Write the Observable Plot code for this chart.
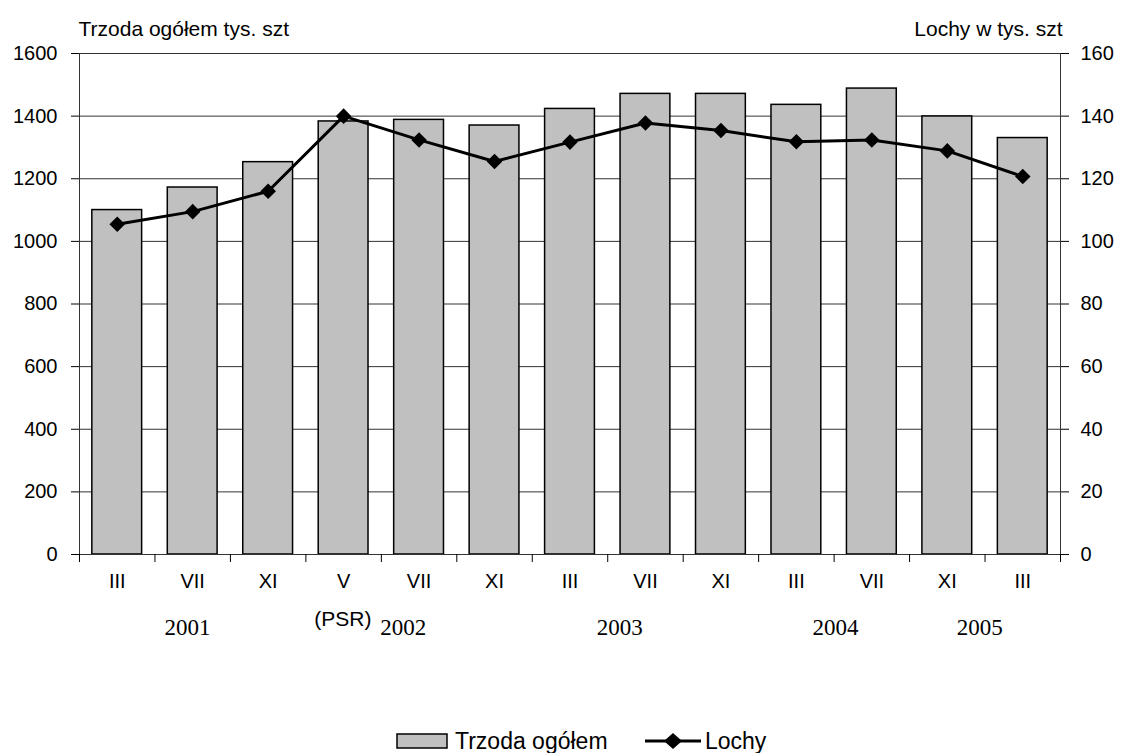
<!DOCTYPE html>
<html>
<head>
<meta charset="utf-8">
<script src="https://cdn.jsdelivr.net/npm/d3@7"></script>
<script src="https://cdn.jsdelivr.net/npm/@observablehq/plot@0.6"></script>
<style>
  body { margin: 0; background: #fff; font-family: "Liberation Sans", Arial, sans-serif; overflow: hidden; }
  #legend { height: 73px; position: relative; font-size: 23px; color: #000; }
  #legend .item { position: absolute; top: 49px; height: 24px; display: flex; align-items: center; }
</style>
</head>
<body>
<div id="chart"></div>
<div id="legend">
  <div class="item" style="left:396px;">
    <svg width="54" height="20"><rect x="1" y="3" width="50" height="14" fill="#c0c0c0" stroke="#000" stroke-width="1.5"/></svg>
    <span style="margin-left:5px">Trzoda ogółem</span>
  </div>
  <div class="item" style="left:644px;">
    <svg width="58" height="22"><line x1="1" y1="11" x2="57" y2="11" stroke="#000" stroke-width="3"/><path d="M29,3 L38,11 L29,19 L20,11 Z" fill="#000"/></svg>
    <span style="margin-left:3px">Lochy</span>
  </div>
</div>
<script>
const months = ["III","VII","XI","V","VII","XI","III","VII","XI","III","VII","XI","III"];
const trzoda = [1100,1172,1253,1383,1388,1370,1423,1471,1471,1436,1488,1399,1330];
const lochy = [105.5,109.5,116,140,132.4,125.5,131.7,137.8,135.4,131.8,132.4,128.9,120.7];
const years = ["2001","2002","2003","2004","2005"];
const yearPos = [1.43, 4.29, 7.16, 10.02, 11.93];
const psrLabel = "(PSR)";
const psrPos = 3.49;
const leftTicks = [0,200,400,600,800,1000,1200,1400,1600];
const rightTicks = [0,20,40,60,80,100,120,140,160];

const data = months.map((m, i) => ({i, m, t: trzoda[i], l: lochy[i]}));
const yearData = years.map((y, k) => ({y, p: yearPos[k]}));

const chart = Plot.plot({
  width: 1125,
  height: 680,
  marginLeft: 79,
  marginRight: 65,
  marginTop: 53,
  marginBottom: 126,
  style: {fontFamily: "'Liberation Sans', Arial, sans-serif", fontSize: "20px", background: "#fff", color: "#000"},
  x: {type: "linear", domain: [0, 13], axis: null},
  y: {domain: [0, 1600], axis: null},
  marks: [
    Plot.ruleY(leftTicks.filter(d => d > 0), {stroke: "#333", strokeWidth: 1}),
    Plot.rect(data, {x1: d => d.i + 0.17, x2: d => d.i + 0.83, y1: 0, y2: "t", fill: "#c0c0c0", stroke: "#000", strokeWidth: 1.5}),
    Plot.ruleX([0, 13], {stroke: "#333", strokeWidth: 1}),
    Plot.ruleY([0], {stroke: "#333", strokeWidth: 1}),
    Plot.axisY({anchor: "left", ticks: leftTicks, tickSize: 8, tickPadding: 14, label: null, fontSize: 20, tickFormat: d => String(d)}),
    Plot.axisY({anchor: "right", ticks: rightTicks.map(d => d * 10), tickSize: 8, tickPadding: 12, label: null, fontSize: 20, tickFormat: d => String(d / 10)}),
    Plot.axisX({anchor: "bottom", ticks: d3.range(0, 14), tickSize: 8, tickFormat: () => "", label: null}),
    Plot.line(data, {x: d => d.i + 0.5, y: d => d.l * 10, stroke: "#000", strokeWidth: 3}),
    Plot.dot(data, {x: d => d.i + 0.5, y: d => d.l * 10, symbol: "diamond2", r: 7, fill: "#000", stroke: "none"}),
    Plot.text(data, {x: d => d.i + 0.5, text: "m", frameAnchor: "bottom", dy: 33, fontSize: 20}),
    Plot.text(yearData, {x: "p", text: "y", frameAnchor: "bottom", dy: 80, fontSize: 23, fontFamily: "'Liberation Serif', 'Times New Roman', serif"}),
    Plot.text([psrLabel], {x: psrPos, text: d => d, frameAnchor: "bottom", dy: 71, fontSize: 21}),
    Plot.text(["Trzoda ogółem tys. szt"], {text: d => d, frameAnchor: "top-left", textAnchor: "start", dx: -1, dy: -32, fontSize: 21}),
    Plot.text(["Lochy w tys. szt"], {text: d => d, frameAnchor: "top-right", textAnchor: "end", dx: 2, dy: -32, fontSize: 21})
  ]
});
document.getElementById("chart").appendChild(chart);
</script>
</body>
</html>
